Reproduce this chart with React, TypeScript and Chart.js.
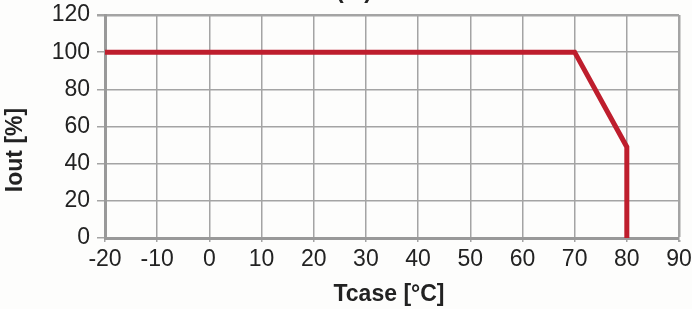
import React, { useEffect, useRef } from "react";
import { Chart, registerables } from "chart.js";

Chart.register(...registerables);

const tcase = [-20, 70, 80, 80];
const iout = [100, 100, 49, 0];
const xTicks = [-20, -10, 0, 10, 20, 30, 40, 50, 60, 70, 80, 90];
const yTicks = [0, 20, 40, 60, 80, 100, 120];
const titleText = "(%)";
const xTitle = "Tcase [°C]";
const yTitle = "Iout [%]";

const FONT = "'Liberation Sans', Arial, sans-serif";

export default function App() {
  const ref = useRef<HTMLCanvasElement | null>(null);
  useEffect(() => {
    if (!ref.current) return;
    const titles = {
      id: "titles",
      afterDraw(chart: any) {
        const ctx = chart.ctx;
        ctx.save();
        ctx.font = `bold 23px ${FONT}`;
        ctx.fillStyle = "#222";
        ctx.textAlign = "center";
        ctx.textBaseline = "alphabetic";
        ctx.fillText(titleText, 354, -2);
        ctx.textBaseline = "middle";
        ctx.fillText(xTitle, 389, 295);
        ctx.translate(16, 150);
        ctx.rotate(-Math.PI / 2);
        ctx.fillText(yTitle, 0, 0);
        ctx.restore();
      },
    };
    const chart = new Chart(ref.current, {
      type: "line",
      data: {
        datasets: [
          {
            data: tcase.map((x, i) => ({ x, y: iout[i] })),
            borderColor: "#BE1E2D",
            borderWidth: 5,
            pointRadius: 0,
            fill: false,
            tension: 0,
            borderJoinStyle: "miter",
            borderCapStyle: "butt",
          },
        ],
      },
      options: {
        animation: false,
        responsive: false,
        maintainAspectRatio: false,
        layout: { padding: { top: 15, right: 13, left: 0, bottom: 0 } },
        plugins: { legend: { display: false }, tooltip: { enabled: false }, title: { display: false } },
        scales: {
          x: {
            type: "linear",
            min: -20,
            max: 90,
            afterBuildTicks: (s: any) => {
              s.ticks = xTicks.map((v) => ({ value: v }));
            },
            afterFit: (s: any) => {
              s.height = 71;
              s.paddingLeft = 0;
              s.paddingRight = 0;
            },
            ticks: {
              font: { family: FONT, size: 23 },
              color: "#222",
              padding: 4,
              maxRotation: 0,
              autoSkip: false,
            },
            grid: {
              color: "#a4a4a4",
              lineWidth: (c: any) => (c.tick && c.tick.value === 90 ? 2.5 : 1.5),
              tickLength: 4,
              drawTicks: true,
            },
            border: { color: "#999999", width: 3 },
            title: { display: false },
          },
          y: {
            type: "linear",
            min: 0,
            max: 120,
            afterBuildTicks: (s: any) => {
              s.ticks = yTicks.map((v) => ({ value: v }));
            },
            afterFit: (s: any) => {
              s.width = 105;
              s.paddingTop = 0;
              s.paddingBottom = 0;
            },
            ticks: {
              font: { family: FONT, size: 23 },
              color: "#222",
              padding: 7,
              autoSkip: false,
            },
            grid: {
              color: "#a4a4a4",
              lineWidth: (c: any) => (c.tick && c.tick.value === 120 ? 2.5 : 1.5),
              tickLength: 8,
            },
            border: { color: "#999999", width: 3 },
            title: { display: false },
          },
        },
      },
      plugins: [titles],
    } as any);
    return () => chart.destroy();
  }, []);
  return (
    <div style={{ position: "fixed", left: 0, top: 0, width: 692, height: 309, background: "#fdfdfc" }}>
      <canvas ref={ref} width={692} height={309} style={{ width: 692, height: 309 }} />
    </div>
  );
}
